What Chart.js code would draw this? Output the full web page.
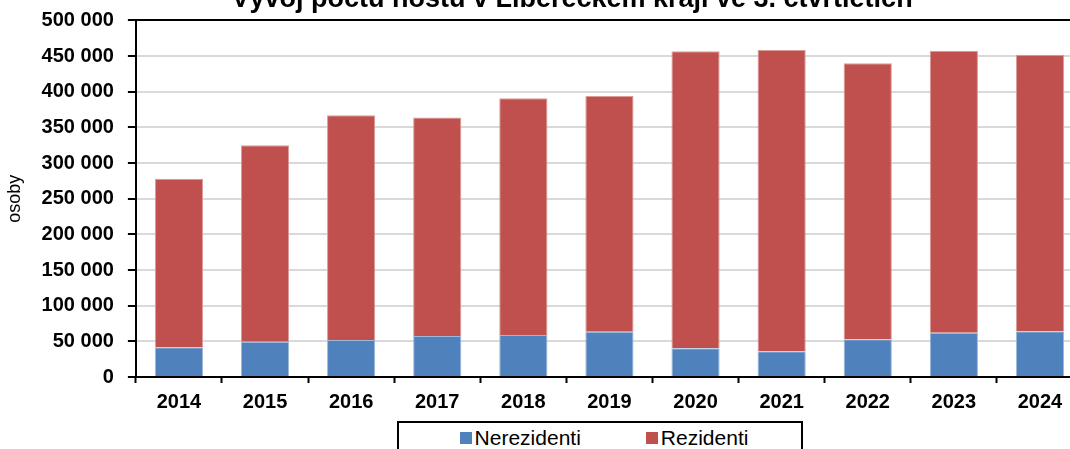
<!DOCTYPE html>
<html>
<head>
<meta charset="utf-8">
<title>Vývoj počtu hostů v Libereckém kraji</title>
<script src="https://cdn.jsdelivr.net/npm/chart.js@4.4.1/dist/chart.umd.min.js"></script>
<style>
    html, body { margin: 0; padding: 0; background: #fff; overflow: hidden; }
    body { width: 1070px; height: 449px; position: relative; }
    #wrap { position: absolute; left: 0; top: -40px; width: 1144px; height: 461px; }
    #legend {
        position: absolute; left: 397px; top: 421px; width: 406px; height: 40px;
        border: 2px solid #000; background: #fff;
        display: flex; justify-content: center; align-items: flex-start;
        padding: 3px 0 0 8px; box-sizing: border-box;
        font-family: 'Liberation Sans', Arial, sans-serif; font-size: 21px; line-height: 24px; color: #000;
    }
    #legend .item { display: flex; align-items: flex-start; }
    #legend .item + .item { margin-left: 65px; }
    #legend .box { width: 12px; height: 12px; margin-top: 6px; margin-right: 3px; }
</style>
</head>
<body>
<div id="wrap"><canvas id="chartHoste" width="1144" height="461"></canvas></div>
<div id="legend"></div>
<script>
// --- Data ---
const years = ['2014', '2015', '2016', '2017', '2018', '2019', '2020', '2021', '2022', '2023', '2024'];
const nerezidenti = [41600, 49400, 51800, 57400, 58800, 63500, 40200, 36000, 52800, 62000, 64000];
const rezidenti = [236400, 275600, 315200, 306600, 332200, 330500, 416400, 422400, 387000, 395600, 388000];
const yMax = 500000;
const yStep = 50000;

const chartTitle = 'Vývoj počtu hostů v Libereckém kraji ve 3. čtvrtletích';
const yAxisTitle = 'osoby';

const FONT = "'Liberation Sans', Arial, sans-serif";
Chart.defaults.font.family = FONT;
Chart.defaults.color = '#000';

// 500000 -> "500 000"
const fmt = (v) => String(v).replace(/\B(?=(\d{3})+(?!\d))/g, ' ');

const chart = new Chart(document.getElementById('chartHoste'), {
    type: 'bar',
    data: {
        labels: years,
        datasets: [
            {
                label: 'Nerezidenti',
                data: nerezidenti,
                backgroundColor: '#4F81BD',
                borderColor: '#9db8da',
                borderWidth: 1
            },
            {
                label: 'Rezidenti',
                data: rezidenti,
                backgroundColor: '#C0504D',
                borderColor: '#dc9c9a',
                borderWidth: 1
            }
        ]
    },
    options: {
        responsive: false,
        animation: false,
        barPercentage: 0.56,
        categoryPercentage: 1.0,
        layout: { padding: 0 },
        plugins: {
            legend: { display: false },
            tooltip: { enabled: false },
            title: {
                display: true,
                text: chartTitle,
                color: '#000',
                font: { size: 27, weight: 'bold' },
                padding: { top: 23, bottom: 5 }
            }
        },
        scales: {
            x: {
                stacked: true,
                grid: {
                    offset: true,
                    drawOnChartArea: false,
                    tickLength: 6,
                    tickColor: '#000',
                    tickWidth: 2
                },
                border: { color: '#000', width: 2 },
                ticks: {
                    font: { size: 20, weight: 'bold' },
                    color: '#000',
                    padding: 7,
                    maxRotation: 0
                }
            },
            y: {
                stacked: true,
                min: 0,
                max: yMax,
                grid: {
                    color: (ctx) => ctx.tick && ctx.tick.value === yMax ? '#000' : '#d9d9d9',
                    lineWidth: 2,
                    tickLength: 8,
                    tickColor: '#000',
                    tickWidth: 2
                },
                border: { color: '#000', width: 2 },
                ticks: {
                    stepSize: yStep,
                    font: { size: 20, weight: 'bold' },
                    color: '#000',
                    padding: 14,
                    callback: (v) => fmt(v)
                },
                title: {
                    display: true,
                    text: yAxisTitle,
                    color: '#000',
                    font: { size: 18 },
                    padding: { top: 4, bottom: 2 }
                }
            },
            // empty right-hand axis, only reserves room so the plot runs past the page edge
            yRight: {
                position: 'right',
                display: true,
                grid: { display: false },
                border: { display: false },
                ticks: { display: false },
                afterFit: (scale) => { scale.width = 61; }
            }
        }
    }
});

// --- HTML legend in a framed box, like the original ---
const legendEl = document.getElementById('legend');
chart.data.datasets.forEach(ds => {
    const item = document.createElement('div');
    item.className = 'item';
    const box = document.createElement('span');
    box.className = 'box';
    box.style.background = ds.backgroundColor;
    const txt = document.createElement('span');
    txt.textContent = ds.label;
    item.appendChild(box);
    item.appendChild(txt);
    legendEl.appendChild(item);
});
</script>
</body>
</html>
